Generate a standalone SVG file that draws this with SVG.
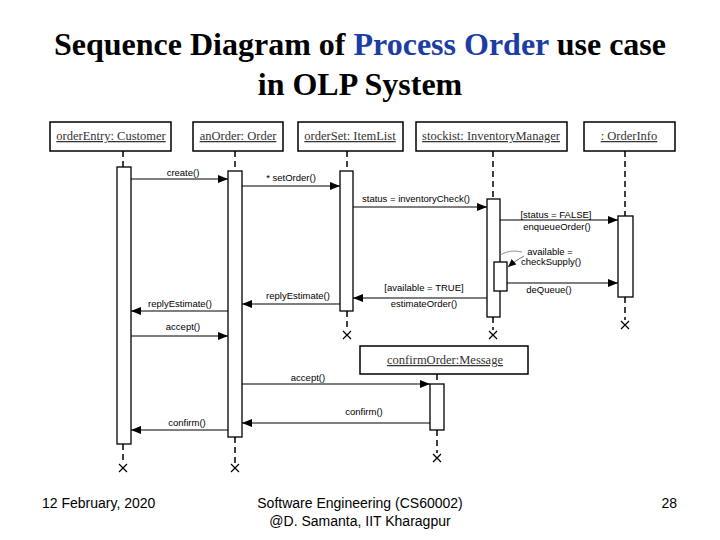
<svg xmlns="http://www.w3.org/2000/svg" width="720" height="540" viewBox="0 0 720 540">
<defs>
<marker id="ah" markerWidth="10" markerHeight="8" refX="10" refY="4" orient="auto" markerUnits="userSpaceOnUse">
<path d="M0,0 L10,4 L0,8 Z" fill="#000"/>
</marker>
<marker id="ahs" markerWidth="8" markerHeight="7" refX="8" refY="3.5" orient="auto" markerUnits="userSpaceOnUse">
<path d="M0,0 L8,3.5 L0,7 Z" fill="#000"/>
</marker>
<style>
.title{font-family:"Liberation Serif","Times New Roman",serif;font-weight:bold;font-size:32px;fill:#000}
.obj{fill:#fff;stroke:#000;stroke-width:1.5}
.objt{font-family:"Liberation Serif","Times New Roman",serif;font-size:12.5px;fill:#333;text-decoration:underline;text-anchor:middle}
.act{fill:#fff;stroke:#000;stroke-width:1.3}
.life{stroke:#000;stroke-width:1.5;stroke-dasharray:6,4;fill:none}
.msg{stroke:#000;stroke-width:1.2;fill:none}
.lbl{font-family:"Liberation Sans",Arial,sans-serif;font-size:9.5px;fill:#000;text-anchor:middle}
.x{stroke:#000;stroke-width:1.2;fill:none}
.foot{font-family:"Liberation Sans",Arial,sans-serif;font-size:14px;fill:#000}
</style>
</defs>
<rect width="720" height="540" fill="#fff"/>
<g id="title">
<text class="title" x="360" y="55" text-anchor="middle">Sequence Diagram of <tspan fill="#1c3ca6">Process Order</tspan> use case</text>
<text class="title" x="360" y="95" text-anchor="middle">in OLP System</text>
</g>
<g id="lifelines">
<line class="life" x1="123" y1="151" x2="123" y2="167"/>
<line class="life" x1="123" y1="444" x2="123" y2="463"/>
<line class="life" x1="235" y1="151" x2="235" y2="171"/>
<line class="life" x1="235" y1="437" x2="235" y2="463"/>
<line class="life" x1="347" y1="151" x2="347" y2="171"/>
<line class="life" x1="347" y1="311" x2="347" y2="330"/>
<line class="life" x1="493" y1="151" x2="493" y2="199"/>
<line class="life" x1="493" y1="317" x2="493" y2="330"/>
<line class="life" x1="625" y1="151" x2="625" y2="216"/>
<line class="life" x1="625" y1="297" x2="625" y2="320"/>
<line class="life" x1="437" y1="374" x2="437" y2="384"/>
<line class="life" x1="437" y1="430" x2="437" y2="453"/>
</g>
<g id="orderEntry">
<rect class="obj" x="50" y="122" width="121" height="29"/>
<text class="objt" x="111" y="140">orderEntry: Customer</text>
<rect class="act" x="117" y="167" width="14" height="277"/>
<path class="x" d="M119,464 L127,472 M127,464 L119,472"/>
</g>
<g id="anOrder">
<rect class="obj" x="193" y="122" width="90" height="29"/>
<text class="objt" x="238" y="140">anOrder: Order</text>
<rect class="act" x="228" y="171" width="14" height="266"/>
<path class="x" d="M231,464 L239,472 M239,464 L231,472"/>
</g>
<g id="orderSet">
<rect class="obj" x="298" y="122" width="105" height="29"/>
<text class="objt" x="350" y="140">orderSet: ItemList</text>
<rect class="act" x="340" y="171" width="13" height="140"/>
<path class="x" d="M343,331 L351,339 M351,331 L343,339"/>
</g>
<g id="stockist">
<rect class="obj" x="416" y="122" width="151" height="29"/>
<text class="objt" x="491" y="140">stockist: InventoryManager</text>
<rect class="act" x="487" y="199" width="13" height="118"/>
<rect class="act" x="494" y="262" width="13" height="29"/>
<path class="x" d="M489,331 L497,339 M497,331 L489,339"/>
</g>
<g id="orderInfo">
<rect class="obj" x="584" y="122" width="91" height="29"/>
<text class="objt" x="629" y="140">: OrderInfo</text>
<rect class="act" x="618" y="216" width="15" height="81"/>
<path class="x" d="M621,321 L629,329 M629,321 L621,329"/>
</g>
<g id="confirmOrder">
<rect class="obj" x="360" y="346" width="168" height="28"/>
<text class="objt" x="445" y="364">confirmOrder:Message</text>
<rect class="act" x="430" y="384" width="14" height="46"/>
<path class="x" d="M433,454 L441,462 M441,454 L433,462"/>
</g>
<g id="connectors">
<line class="msg" x1="131" y1="179" x2="228" y2="179" marker-end="url(#ah)"/>
<text class="lbl" x="183" y="176">create()</text>
<line class="msg" x1="242" y1="186" x2="340" y2="186" marker-end="url(#ah)"/>
<text class="lbl" x="291" y="181">* setOrder()</text>
<line class="msg" x1="353" y1="207" x2="487" y2="207" marker-end="url(#ah)"/>
<text class="lbl" x="416" y="202">status = inventoryCheck()</text>
<line class="msg" x1="500" y1="220" x2="618" y2="220" marker-end="url(#ah)"/>
<text class="lbl" x="556" y="218">[status = FALSE]</text>
<text class="lbl" x="557" y="230">enqueueOrder()</text>
<path d="M500,255 Q510,249 522,252" stroke="#777" stroke-width="0.8" fill="none"/>
<path d="M524,256 Q516,260 508,267" stroke="#555" stroke-width="0.8" fill="none" marker-end="url(#ahs)"/>
<text class="lbl" x="550" y="255">available =</text>
<text class="lbl" x="551" y="265">checkSupply()</text>
<line class="msg" x1="507" y1="283" x2="618" y2="283" marker-end="url(#ah)"/>
<text class="lbl" x="549" y="293">deQueue()</text>
<line class="msg" x1="487" y1="298" x2="353" y2="298" marker-end="url(#ah)"/>
<text class="lbl" x="424" y="291">[available = TRUE]</text>
<text class="lbl" x="424" y="307">estimateOrder()</text>
<line class="msg" x1="340" y1="304" x2="242" y2="304" marker-end="url(#ah)"/>
<text class="lbl" x="298" y="299">replyEstimate()</text>
<line class="msg" x1="228" y1="311" x2="131" y2="311" marker-end="url(#ah)"/>
<text class="lbl" x="180" y="307">replyEstimate()</text>
<line class="msg" x1="131" y1="336" x2="228" y2="336" marker-end="url(#ah)"/>
<text class="lbl" x="183" y="330">accept()</text>
<line class="msg" x1="242" y1="384" x2="430" y2="384" marker-end="url(#ah)"/>
<text class="lbl" x="308" y="381">accept()</text>
<line class="msg" x1="430" y1="423" x2="242" y2="423" stroke="#555" marker-end="url(#ah)"/>
<text class="lbl" x="364" y="415">confirm()</text>
<line class="msg" x1="228" y1="430" x2="131" y2="430" marker-end="url(#ah)"/>
<text class="lbl" x="187" y="426">confirm()</text>
</g>
<g id="footer">
<text class="foot" x="42" y="508">12 February, 2020</text>
<text class="foot" x="360" y="508" text-anchor="middle">Software Engineering (CS60002)</text>
<text class="foot" x="360" y="526" text-anchor="middle">@D. Samanta, IIT Kharagpur</text>
<text class="foot" x="677" y="508" text-anchor="end">28</text>
</g>
</svg>
